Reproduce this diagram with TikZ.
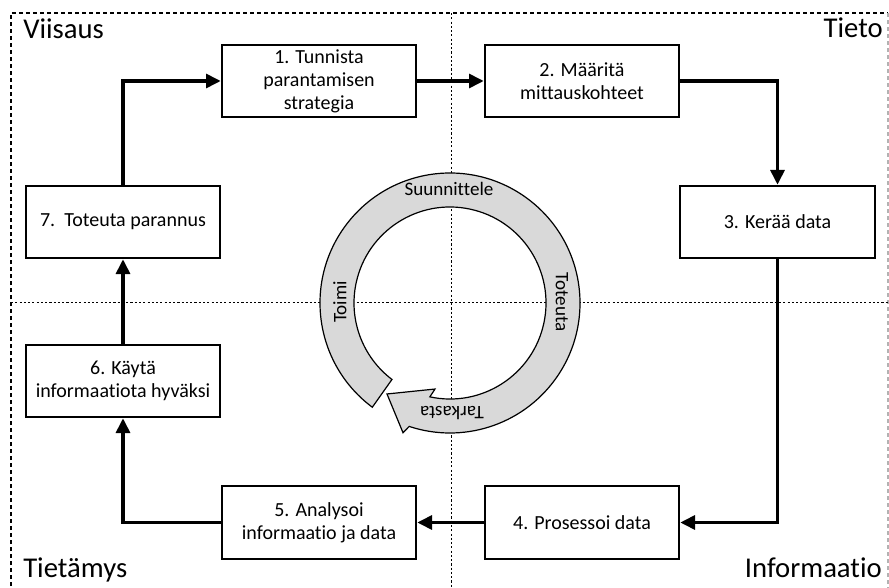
\documentclass[tikz,border=0pt]{standalone}
\usepackage{fontspec}
\setmainfont{Carlito}[Ligatures=NoCommon]
\usetikzlibrary{arrows.meta}
\definecolor{ringgray}{HTML}{D9D9D9}
\begin{document}
\begin{tikzpicture}[x=0.75pt,y=-0.75pt,
  stepbox/.style={draw=black, line width=1.5pt, fill=white,
    minimum width=146pt, minimum height=54.5pt, inner sep=2pt,
    align=center, font=\fontsize{15}{17.25}\selectfont},
  flow/.style={line width=2.3pt, -{Triangle[length=11pt,width=10.5pt]}},
  frameline/.style={line width=1pt, dash pattern=on 3pt off 2.25pt},
  quadline/.style={line width=0.55pt, dash pattern=on 1.6pt off 1.6pt},
  zonelabel/.style={font=\fontsize{21.5}{24}\selectfont, inner sep=0pt},
  ringlabel/.style={font=\fontsize{14.3}{16}\selectfont, inner sep=0pt}]
\useasboundingbox (0,0) rectangle (889,588);

% outer frame (runs past the bottom edge)
\draw[frameline] (11,600) -- (11,13) -- (888,13);
\draw[frameline, black!30] (888,13) -- (888,600);

% quadrant dividers
\draw[quadline] (451,13) -- (451,600);
\draw[quadline] (11,302) -- (888,302);

% quadrant titles
\node[zonelabel, anchor=base west] (viisaus) at (23,39) {Viisaus};
\node[zonelabel, anchor=base east] (tieto) at (883,38) {Tieto};
\node[zonelabel, anchor=base west] (tietamys) at (23,577) {Tietämys};
\node[zonelabel, anchor=base east] (informaatio) at (882,577) {Informaatio};

% PDCA ring with its arrow head
\begin{scope}[shift={(450,303)}]
  \filldraw[fill=ringgray, draw=black, line width=0.9pt, line join=miter]
    (233.3:97.5pt) arc[start angle=233.3, end angle=-108.3, radius=97.5pt]
    -- (250.1:103.5pt) -- (235.3:83pt) -- (260.1:65.5pt) -- (-102.1:72pt)
    arc[start angle=-102.1, end angle=232.8, radius=72pt] -- cycle;
\end{scope}
\node[ringlabel] (plan) at (449,189) {Suunnittele};
\node[ringlabel, rotate=-90] (do) at (562,302) {Toteuta};
\node[ringlabel, rotate=180] (check) at (452,413) {Tarkasta};
\node[ringlabel, rotate=90] (act) at (340,302) {Toimi};

% process steps
\node[stepbox] (s1) at (319,81) {1. Tunnista\\parantamisen\\strategia};
\node[stepbox] (s2) at (582,81) {2. Määritä\\mittauskohteet};
\node[stepbox] (s3) at (777.5,222) {3. Kerää data};
\node[stepbox] (s4) at (582,522.5) {4. Prosessoi data};
\node[stepbox] (s5) at (319,522.5) {5. Analysoi\\informaatio ja data};
\node[stepbox] (s6) at (123,381) {6. Käytä\\informaatiota hyväksi};
\node[stepbox] (s7) at (123,222) {7.\ \ Toteuta parannus};

% connectors
\draw[flow] (s7.north) |- (s1.west);
\draw[flow] (s1.east) -- (s2.west);
\draw[flow] (s2.east) -| (s3.north);
\draw[flow] (s3.south) |- (s4.east);
\draw[flow] (s4.west) -- (s5.east);
\draw[flow] (s5.west) -| (s6.south);
\draw[flow] (s6.north) -- (s7.south);
\end{tikzpicture}
\end{document}
